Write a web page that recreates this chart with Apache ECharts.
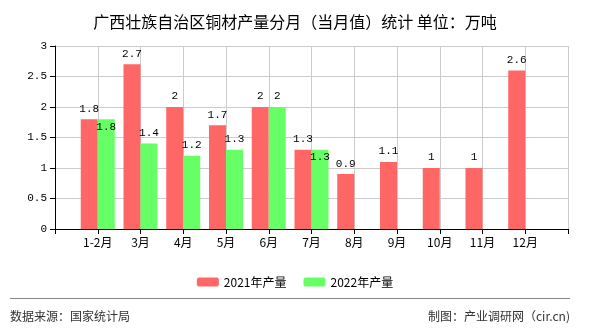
<!DOCTYPE html>
<html>
<head>
<meta charset="utf-8">
<script src="https://cdn.jsdelivr.net/npm/echarts@6/dist/echarts.min.js"></script>
<style>html,body{margin:0;padding:0;background:#fff}#c{width:590px;height:330px}</style>
</head>
<body>
<div id="c"></div>
<script>
var months = ['1-2月','3月','4月','5月','6月','7月','8月','9月','10月','11月','12月'];
var values2021 = [1.8, 2.7, 2, 1.7, 2, 1.3, 0.9, 1.1, 1, 1, 2.6];
var values2022 = [1.8, 1.4, 1.2, 1.3, 2, 1.3, null, null, null, null, null];
var seriesNames = ['2021年产量', '2022年产量'];
var yTicks = [0, 0.5, 1, 1.5, 2, 2.5, 3];

var cats = [''].concat(months).concat(['']);
function pad(arr, overlapIdx) {
  var out = [null];
  arr.forEach(function (v, i) {
    if (v == null) { out.push(null); return; }
    if (overlapIdx && overlapIdx.indexOf(i) >= 0) {
      out.push({value: v, label: {position: 'insideTop', distance: 2}});
    } else out.push(v);
  });
  out.push(null);
  return out;
}
// indices where the 2022 label sits inside the bar (overlaps with 2021 label)
var insideIdx = [];
values2022.forEach(function (v, i) { if (v != null && v === values2021[i]) insideIdx.push(i); });
insideIdx = insideIdx.filter(function (i) { return values2022[i] !== 2; });

var labelFont = {fontFamily: 'Liberation Mono', fontSize: 11, color: '#000'};
var chart = echarts.init(document.getElementById('c'));
chart.setOption({
  backgroundColor: '#fff',
  animation: false,
  title: {
    text: '广西壮族自治区铜材产量分月（当月值）统计 单位：万吨',
    left: 'center', top: 9,
    textStyle: {fontFamily: 'Noto Sans CJK SC', fontSize: 16, fontWeight: 'normal', color: '#000'}
  },
  legend: {
    data: seriesNames,
    left: 'center', top: 271,
    itemWidth: 22, itemHeight: 9, itemGap: 17,
    textStyle: {fontFamily: 'Noto Sans CJK SC', fontSize: 12, color: '#000'}
  },
  grid: {left: 55, right: 22, top: 46, bottom: 101, containLabel: false},
  xAxis: {
    type: 'category', data: cats, boundaryGap: false,
    axisLine: {lineStyle: {color: '#000', width: 1}},
    axisTick: {show: true, interval: 0, length: 5, lineStyle: {color: '#000'}},
    axisLabel: {interval: 0, margin: 7, fontFamily: 'Noto Sans CJK SC', fontSize: 12, color: '#000'},
    splitLine: {show: true, interval: 0, lineStyle: {color: '#ccc'}}
  },
  yAxis: {
    type: 'value', min: yTicks[0], max: yTicks[yTicks.length - 1], interval: 0.5,
    axisLine: {show: true, lineStyle: {color: '#000'}},
    axisTick: {show: true, length: 5, lineStyle: {color: '#000'}},
    axisLabel: {margin: 8, fontFamily: 'Liberation Mono', fontSize: 11, color: '#000'},
    splitLine: {lineStyle: {color: '#ccc'}}
  },
  series: [
    {name: seriesNames[0], type: 'bar', data: pad(values2021), barWidth: 17, barGap: '0%',
     itemStyle: {color: '#ff6666'}, label: Object.assign({show: true, position: 'top', distance: 5}, labelFont)},
    {name: seriesNames[1], type: 'bar', data: pad(values2022, insideIdx), barWidth: 17, barGap: '0%',
     itemStyle: {color: '#66ff66'}, label: Object.assign({show: true, position: 'top', distance: 5}, labelFont)}
  ],
  graphic: [
    {type: 'line', shape: {x1: 10, y1: 298.5, x2: 570, y2: 298.5}, style: {stroke: '#888', lineWidth: 1}},
    {type: 'text', left: 10, top: 310, style: {text: '数据来源：国家统计局', fill: '#333', font: '12px "Noto Sans CJK SC"'}},
    {type: 'text', right: 20, top: 310, style: {text: '制图：产业调研网（cir.cn)', fill: '#333', font: '12px "Noto Sans CJK SC"'}}
  ]
});
</script>
</body>
</html>
